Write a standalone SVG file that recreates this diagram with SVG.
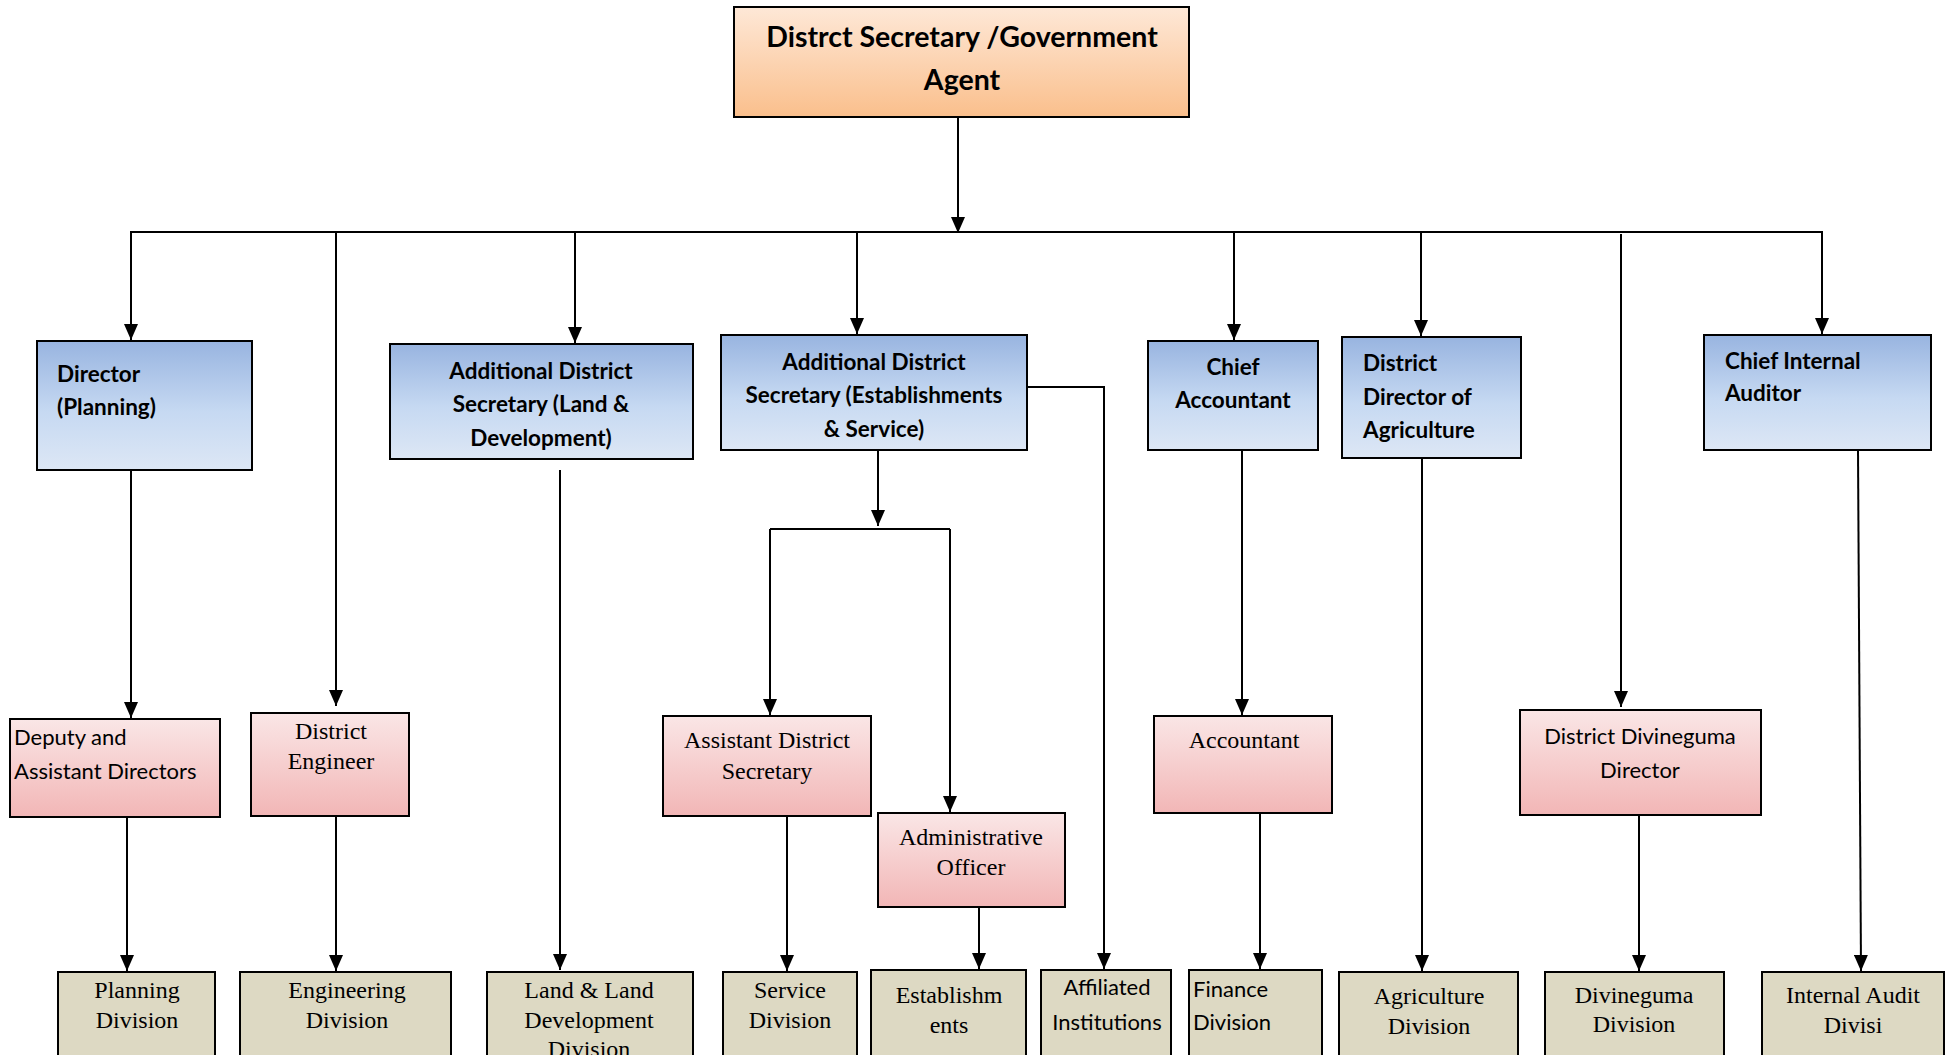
<svg xmlns="http://www.w3.org/2000/svg" width="1950" height="1055" viewBox="0 0 1950 1055">
<defs>
  <linearGradient id="gOrange" x1="0" y1="0" x2="0" y2="1">
    <stop offset="0" stop-color="#fee8d7"/>
    <stop offset="1" stop-color="#fabf8c"/>
  </linearGradient>
  <linearGradient id="gBlue" x1="0" y1="0" x2="0" y2="1">
    <stop offset="0" stop-color="#98b4e0"/>
    <stop offset="0.55" stop-color="#c6d9f2"/>
    <stop offset="1" stop-color="#dde7f5"/>
  </linearGradient>
  <linearGradient id="gPink" x1="0" y1="0" x2="0" y2="1">
    <stop offset="0" stop-color="#fae6e6"/>
    <stop offset="1" stop-color="#f2b6b6"/>
  </linearGradient>
  <marker id="arr" viewBox="0 0 16 14" refX="16" refY="7" markerWidth="16" markerHeight="14" markerUnits="userSpaceOnUse" orient="auto">
    <path d="M0,0 L16,7 L0,14 z" fill="#000"/>
  </marker>
  <style>
    .box rect { stroke: #000; stroke-width: 2; }
    .orange rect { fill: url(#gOrange); }
    .blue rect { fill: url(#gBlue); }
    .pink rect { fill: url(#gPink); }
    .tan rect { fill: #ddd9c3; }
    .cb { font-family: Lato, "Open Sans", "DejaVu Sans", sans-serif; font-weight: bold; font-size: 22.5px; fill: #000; }
    .cr { font-family: Lato, "Open Sans", "DejaVu Sans", sans-serif; font-size: 22px; fill: #000; }
    .tr { font-family: "Liberation Serif", "DejaVu Serif", serif; font-size: 24px; fill: #000; }
    .mid { text-anchor: middle; }
    .conn line, .conn polyline { stroke: #000; stroke-width: 2; fill: none; }
    .conn .a { marker-end: url(#arr); }
  </style>
</defs>
<rect width="1950" height="1055" fill="#fff"/>

<g id="connectors" class="conn">
  <line class="a" x1="958" y1="117" x2="958" y2="233"/>
  <line x1="130" y1="232" x2="1823" y2="232"/>
  <line class="a" x1="131" y1="232" x2="131" y2="340"/>
  <line class="a" x1="336" y1="232" x2="336" y2="706"/>
  <line class="a" x1="575" y1="232" x2="575" y2="343"/>
  <line class="a" x1="857" y1="232" x2="857" y2="334"/>
  <line class="a" x1="1234" y1="232" x2="1234" y2="340"/>
  <line class="a" x1="1421" y1="232" x2="1421" y2="336"/>
  <line class="a" x1="1621" y1="234" x2="1621" y2="707"/>
  <line class="a" x1="1822" y1="232" x2="1822" y2="334"/>

  <line class="a" x1="131" y1="470" x2="131" y2="718"/>
  <line class="a" x1="127" y1="813" x2="127" y2="971"/>
  <line class="a" x1="336" y1="816" x2="336" y2="971"/>
  <line class="a" x1="560" y1="470" x2="560" y2="970"/>

  <line class="a" x1="878" y1="450" x2="878" y2="526"/>
  <line x1="770" y1="529" x2="950" y2="529"/>
  <line class="a" x1="770" y1="529" x2="770" y2="715"/>
  <line class="a" x1="950" y1="529" x2="950" y2="812"/>
  <polyline class="a" points="1016,387 1104,387 1104,969"/>

  <line class="a" x1="787" y1="816" x2="787" y2="971"/>
  <line class="a" x1="979" y1="907" x2="979" y2="969"/>
  <line class="a" x1="1242" y1="450" x2="1242" y2="715"/>
  <line class="a" x1="1260" y1="813" x2="1260" y2="969"/>
  <line class="a" x1="1422" y1="458" x2="1422" y2="971"/>
  <line class="a" x1="1639" y1="815" x2="1639" y2="971"/>
  <line class="a" x1="1858" y1="450" x2="1861" y2="971"/>
</g>

<g id="district-secretary" class="box orange">
  <rect x="734" y="7" width="455" height="110"/>
  <text class="cb mid" x="962" y="47" style="font-size:28.5px">Distrct Secretary /Government</text>
  <text class="cb mid" x="962" y="90" style="font-size:28.5px">Agent</text>
</g>

<g id="director-planning" class="box blue">
  <rect x="37" y="341" width="215" height="129"/>
  <text class="cb" x="57" y="382">Director</text>
  <text class="cb" x="57" y="415">(Planning)</text>
</g>
<g id="ads-land" class="box blue">
  <rect x="390" y="344" width="303" height="115"/>
  <text class="cb mid" x="541" y="379">Additional District</text>
  <text class="cb mid" x="541" y="412">Secretary (Land &amp;</text>
  <text class="cb mid" x="541" y="446">Development)</text>
</g>
<g id="ads-establishments" class="box blue">
  <rect x="721" y="335" width="306" height="115"/>
  <text class="cb mid" x="874" y="370">Additional District</text>
  <text class="cb mid" x="874" y="403">Secretary (Establishments</text>
  <text class="cb mid" x="874" y="437">&amp; Service)</text>
</g>
<g id="chief-accountant" class="box blue">
  <rect x="1148" y="341" width="170" height="109"/>
  <text class="cb mid" x="1233" y="375">Chief</text>
  <text class="cb mid" x="1233" y="408">Accountant</text>
</g>
<g id="district-director-agriculture" class="box blue">
  <rect x="1342" y="337" width="179" height="121"/>
  <text class="cb" x="1363" y="371">District</text>
  <text class="cb" x="1363" y="405">Director of</text>
  <text class="cb" x="1363" y="438">Agriculture</text>
</g>
<g id="chief-internal-auditor" class="box blue">
  <rect x="1704" y="335" width="227" height="115"/>
  <text class="cb" x="1725" y="369">Chief Internal</text>
  <text class="cb" x="1725" y="401">Auditor</text>
</g>

<g id="deputy-assistant-directors" class="box pink">
  <rect x="10" y="719" width="210" height="98"/>
  <text class="cr" x="14" y="745">Deputy and</text>
  <text class="cr" x="14" y="779">Assistant Directors</text>
</g>
<g id="district-engineer" class="box pink">
  <rect x="251" y="713" width="158" height="103"/>
  <text class="tr mid" x="331" y="739">District</text>
  <text class="tr mid" x="331" y="769">Engineer</text>
</g>
<g id="assistant-district-secretary" class="box pink">
  <rect x="663" y="716" width="208" height="100"/>
  <text class="tr mid" x="767" y="748">Assistant District</text>
  <text class="tr mid" x="767" y="779">Secretary</text>
</g>
<g id="administrative-officer" class="box pink">
  <rect x="878" y="813" width="187" height="94"/>
  <text class="tr mid" x="971" y="845">Administrative</text>
  <text class="tr mid" x="971" y="875">Officer</text>
</g>
<g id="accountant" class="box pink">
  <rect x="1154" y="716" width="178" height="97"/>
  <text class="tr mid" x="1244" y="748">Accountant</text>
</g>
<g id="district-divineguma-director" class="box pink">
  <rect x="1520" y="710" width="241" height="105"/>
  <text class="cr mid" x="1640" y="744">District Divineguma</text>
  <text class="cr mid" x="1640" y="778">Director</text>
</g>

<g id="planning-division" class="box tan">
  <rect x="58" y="972" width="157" height="95"/>
  <text class="tr mid" x="137" y="998">Planning</text>
  <text class="tr mid" x="137" y="1028">Division</text>
</g>
<g id="engineering-division" class="box tan">
  <rect x="240" y="972" width="211" height="95"/>
  <text class="tr mid" x="347" y="998">Engineering</text>
  <text class="tr mid" x="347" y="1028">Division</text>
</g>
<g id="land-division" class="box tan">
  <rect x="487" y="972" width="206" height="95"/>
  <text class="tr mid" x="589" y="998">Land &amp; Land</text>
  <text class="tr mid" x="589" y="1028">Development</text>
  <text class="tr mid" x="589" y="1057">Division</text>
</g>
<g id="service-division" class="box tan">
  <rect x="723" y="972" width="134" height="95"/>
  <text class="tr mid" x="790" y="998">Service</text>
  <text class="tr mid" x="790" y="1028">Division</text>
</g>
<g id="establishments" class="box tan">
  <rect x="871" y="970" width="155" height="97"/>
  <text class="tr mid" x="949" y="1003">Establishm</text>
  <text class="tr mid" x="949" y="1033">ents</text>
</g>
<g id="affiliated-institutions" class="box tan">
  <rect x="1041" y="970" width="130" height="97"/>
  <text class="cr mid" x="1107" y="995">Affiliated</text>
  <text class="cr mid" x="1107" y="1030">Institutions</text>
</g>
<g id="finance-division" class="box tan">
  <rect x="1189" y="970" width="133" height="97"/>
  <text class="cr" x="1193" y="997">Finance</text>
  <text class="cr" x="1193" y="1030">Division</text>
</g>
<g id="agriculture-division" class="box tan">
  <rect x="1339" y="972" width="179" height="95"/>
  <text class="tr mid" x="1429" y="1004">Agriculture</text>
  <text class="tr mid" x="1429" y="1034">Division</text>
</g>
<g id="divineguma-division" class="box tan">
  <rect x="1545" y="972" width="179" height="95"/>
  <text class="tr mid" x="1634" y="1003">Divineguma</text>
  <text class="tr mid" x="1634" y="1032">Division</text>
</g>
<g id="internal-audit-division" class="box tan">
  <rect x="1762" y="972" width="182" height="95"/>
  <text class="tr mid" x="1853" y="1003">Internal Audit</text>
  <text class="tr mid" x="1853" y="1033">Divisi</text>
</g>
</svg>
